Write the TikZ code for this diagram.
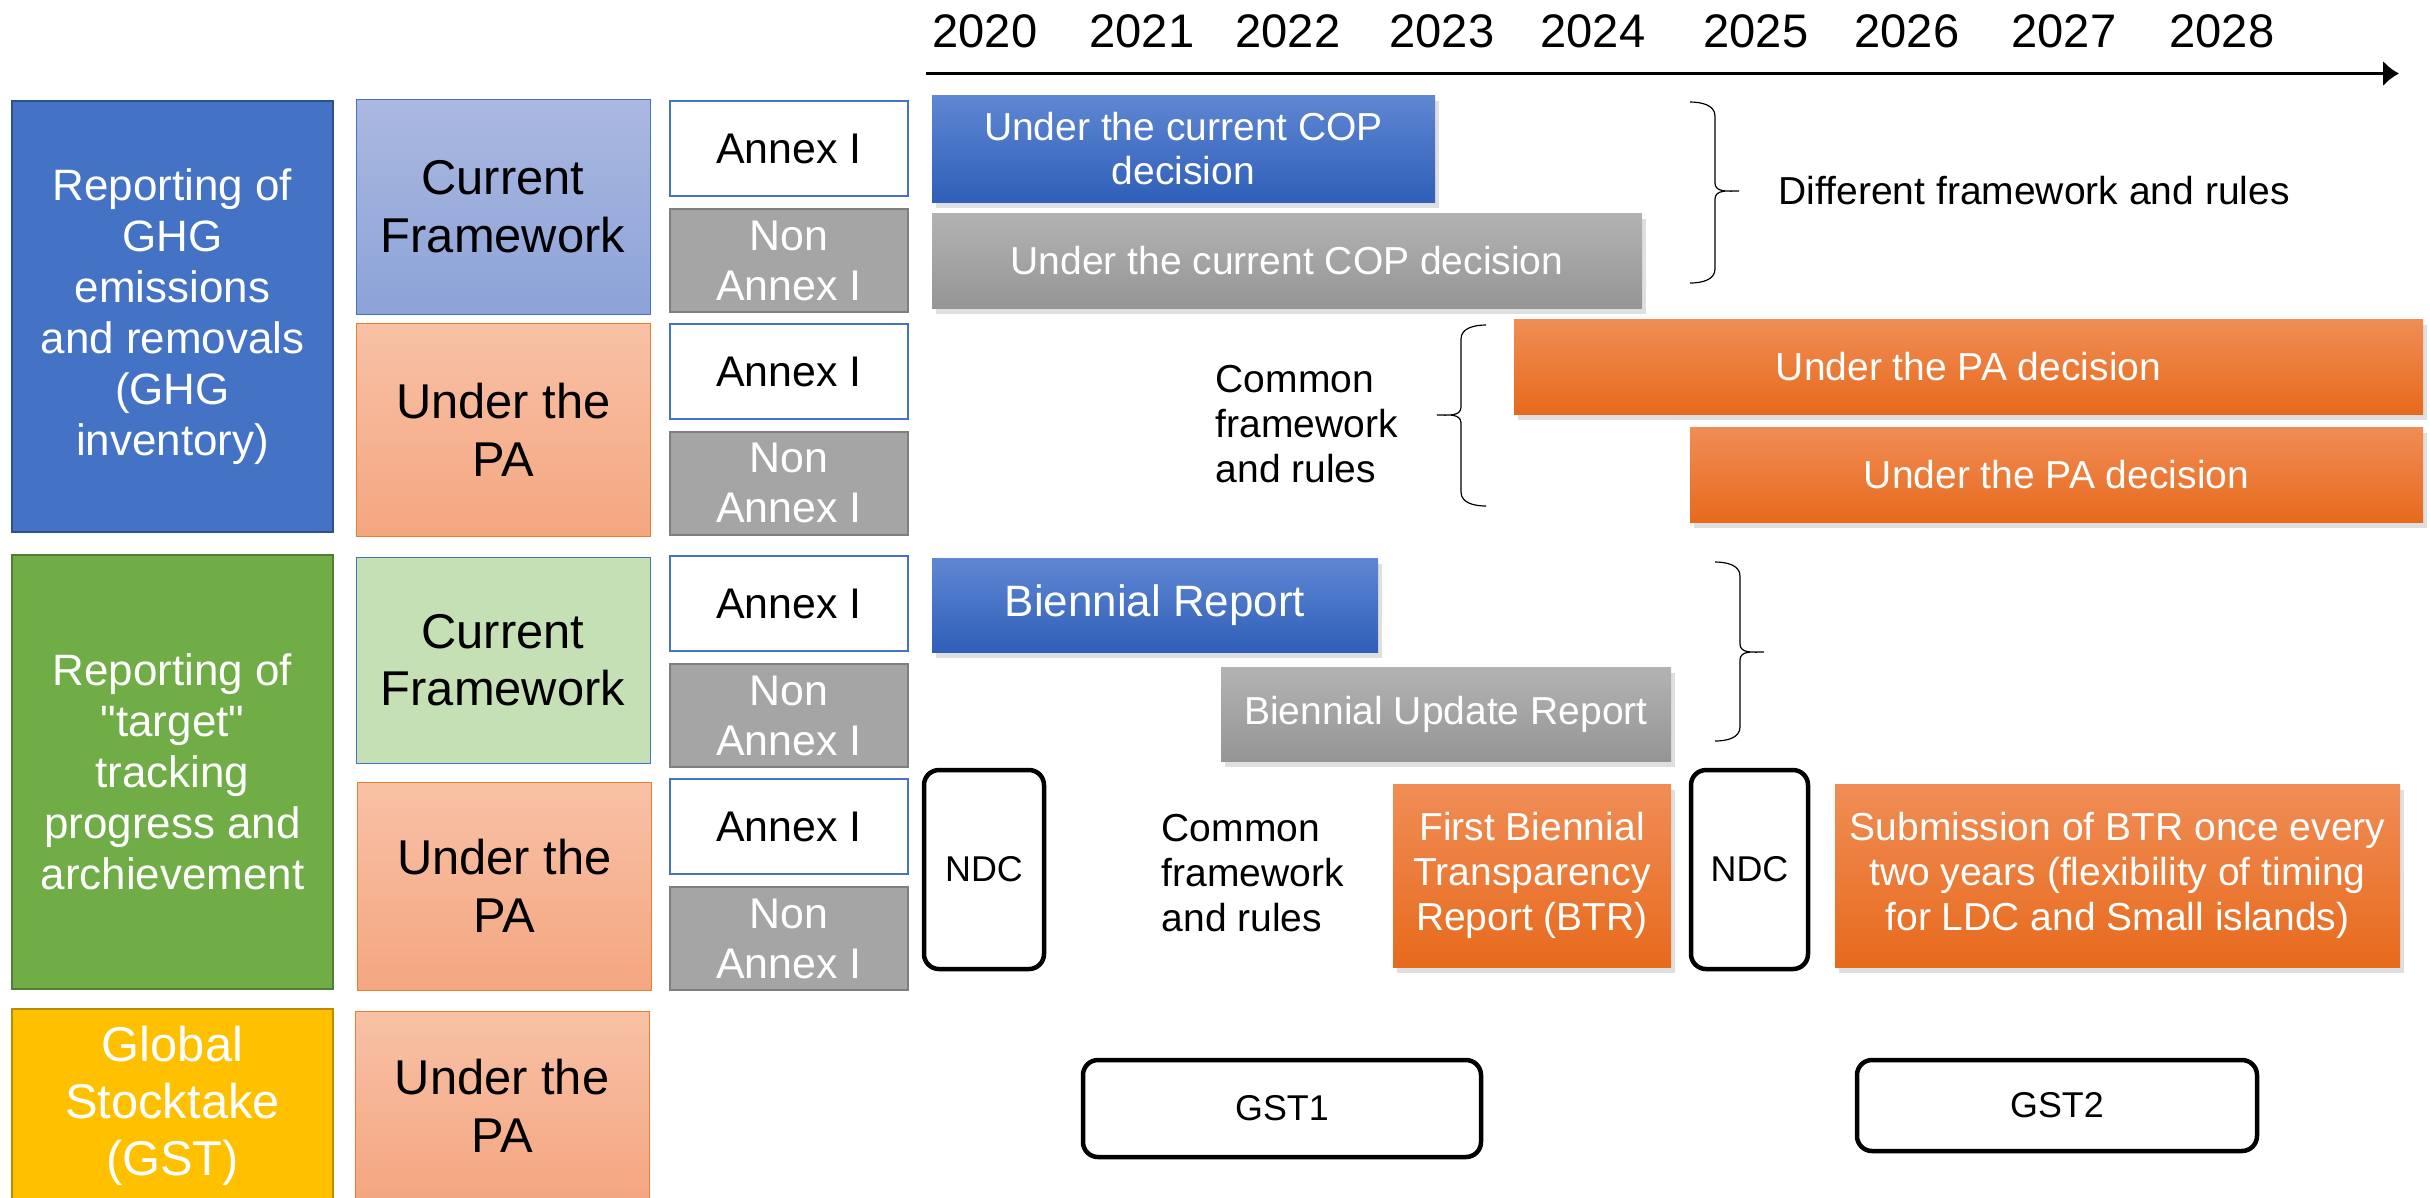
\documentclass[tikz,border=0pt]{standalone}
\usepackage{fontspec}
\setmainfont{Liberation Sans}
\usetikzlibrary{arrows.meta,shadows}

\definecolor{mainblue}{HTML}{4472C4}
\definecolor{mainblueline}{HTML}{2F528F}
\definecolor{maingreen}{HTML}{70AD47}
\definecolor{maingreenline}{HTML}{507E32}
\definecolor{mainyellow}{HTML}{FFC000}
\definecolor{mainyellowline}{HTML}{BC8C00}
\definecolor{paleblue1}{HTML}{ABB8E0}
\definecolor{paleblue2}{HTML}{8CA3D8}
\definecolor{paleorange1}{HTML}{F8C1A6}
\definecolor{paleorange2}{HTML}{F4A680}
\definecolor{orangeline}{HTML}{ED7D31}
\definecolor{palegreen}{HTML}{C5E0B4}
\definecolor{annexgray}{HTML}{A5A5A5}
\definecolor{annexgrayline}{HTML}{7F7F7F}
\definecolor{barblue1}{HTML}{5F87D3}
\definecolor{barblue2}{HTML}{2F5FB8}
\definecolor{bargray1}{HTML}{B3B3B3}
\definecolor{bargray2}{HTML}{959595}
\definecolor{barorange1}{HTML}{F08D56}
\definecolor{barorange2}{HTML}{E76A1C}

\tikzset{
  cellbox/.style={rectangle, inner sep=0pt, align=center},
  topic/.style={cellbox, line width=0.15mm, text=white, font=\fontsize{12.5}{14.5}\selectfont},
  framebox/.style={cellbox, line width=0.1mm, font=\fontsize{13.9}{16.4}\selectfont},
  annex/.style={cellbox, fill=white, draw=mainblue, line width=0.2mm, minimum width=23.8mm, minimum height=9.5mm, font=\fontsize{12.2}{14.2}\selectfont},
  nonannex/.style={cellbox, fill=annexgray, draw=annexgrayline, line width=0.2mm, text=white, minimum width=23.8mm, minimum height=10.3mm, font=\fontsize{12.2}{14.2}\selectfont},
  bar/.style={cellbox, text=white, drop shadow={opacity=0.25, shadow xshift=0.4mm, shadow yshift=-0.6mm}, font=\fontsize{11.1}{12.3}\selectfont},
  bluebar/.style={bar, top color=barblue1, bottom color=barblue2},
  graybar/.style={bar, top color=bargray1, bottom color=bargray2},
  orangebar/.style={bar, top color=barorange1, bottom color=barorange2},
  milestone/.style={cellbox, draw, line width=0.45mm, rounded corners=1.5mm, fill=white, font=\fontsize{10.2}{12}\selectfont},
  note/.style={inner sep=0pt, align=left, font=\fontsize{11.1}{12.8}\selectfont},
  curly/.style={line width=0.12mm},
  yearlabel/.style={inner sep=0pt, font=\fontsize{13.4}{16}\selectfont}
}

\begin{document}
\begin{tikzpicture}[x=1mm, y=-1mm]
	\useasboundingbox (0,0) rectangle (243,119.7);

	% time axis
	\coordinate (t0) at (92.6,7.35);
	\coordinate (t1) at (239.9,7.35);
	\draw [black, line width=0.3mm, -{Latex[length=1.6mm,width=2.6mm]}] (t0) -- (t1);
	\foreach \yr/\x in {2020/98.5, 2021/114.2, 2022/128.8, 2023/144.2, 2024/159.3, 2025/175.6, 2026/190.7, 2027/206.4, 2028/222.2}
		\node [yearlabel] (y\yr) at (\x,3.1) {\yr};

	% reporting topics
	\node [topic, fill=mainblue, draw=mainblueline, minimum width=32.1mm, minimum height=43.1mm] (ghg) at (17.25,31.65) {Reporting of\\GHG\\emissions\\and removals\\(GHG\\inventory)};
	\node [topic, fill=maingreen, draw=maingreenline, minimum width=32.1mm, minimum height=43.4mm] (target) at (17.25,77.2) {Reporting of\\\textquotedbl target\textquotedbl\\tracking\\progress and\\archievement};
	\node [topic, fill=mainyellow, draw=mainyellowline, font=\fontsize{13.9}{16.2}\selectfont, minimum width=32.1mm, minimum height=19.3mm] (gst) at (17.25,110.55) {Global\\Stocktake\\(GST)};

	% frameworks
	\node [framebox, top color=paleblue1, bottom color=paleblue2, draw=mainblue, minimum width=29.4mm, minimum height=21.5mm] (cf1) at (50.3,20.65) {Current\\Framework};
	\node [framebox, top color=paleorange1, bottom color=paleorange2, draw=orangeline, minimum width=29.4mm, minimum height=21.3mm] (pa1) at (50.35,42.95) {Under the\\PA};
	\node [framebox, fill=palegreen, draw=mainblue, minimum width=29.4mm, minimum height=20.6mm] (cf2) at (50.3,66.0) {Current\\Framework};
	\node [framebox, top color=paleorange1, bottom color=paleorange2, draw=orangeline, minimum width=29.4mm, minimum height=20.8mm] (pa2) at (50.45,88.6) {Under the\\PA};
	\node [framebox, top color=paleorange1, bottom color=paleorange2, draw=orangeline, minimum width=29.4mm, minimum height=18.9mm] (pa3) at (50.2,110.55) {Under the\\PA};

	% parties
	\foreach \n/\y in {1/14.85, 2/37.15, 3/60.35, 4/82.65}
		\node [annex] (annex\n) at (78.9,\y) {Annex I};
	\foreach \n/\y in {1/26.05, 2/48.3, 3/71.55, 4/93.85}
		\node [nonannex] (nonannex\n) at (78.9,\y) {Non\\Annex I};

	% GHG inventory
	\node [bluebar, minimum width=50.3mm, minimum height=10.7mm] (cop1) at (118.35,14.85) {Under the current COP\\decision};
	\node [graybar, minimum width=71mm, minimum height=9.5mm] (cop2) at (128.7,26.05) {Under the current COP decision};
	\node [orangebar, minimum width=90.9mm, minimum height=9.5mm] (padec1) at (196.85,36.65) {Under the PA decision};
	\node [orangebar, minimum width=73.3mm, minimum height=9.5mm] (padec2) at (205.65,47.45) {Under the PA decision};
	\draw [curly] (169,10.2) to[out=0,in=90] (171.5,11.6) -- (171.5,18.3) to[out=-90,in=180] (173.9,19.1)
		to[out=180,in=90] (171.5,19.9) -- (171.5,26.9) to[out=-90,in=0] (169,28.3);
	\node [note, anchor=west] (diff) at (177.8,19.1) {Different framework and rules};
	\draw [curly] (148.6,32.5) to[out=180,in=90] (146.1,33.9) -- (146.1,40.7) to[out=-90,in=0] (143.7,41.5)
		to[out=0,in=90] (146.1,42.3) -- (146.1,49.2) to[out=-90,in=180] (148.6,50.6);
	\node [note, anchor=west] (common1) at (121.5,42.4) {Common\\framework\\and rules};

	% target tracking
	\node [bluebar, font=\fontsize{12.5}{14}\selectfont, minimum width=44.6mm, minimum height=9.4mm] (br) at (115.5,60.5) {Biennial Report};
	\node [graybar, minimum width=45mm, minimum height=9.4mm] (bur) at (144.6,71.4) {Biennial Update Report};
	\draw [curly] (171.5,56.2) to[out=0,in=90] (174,57.6) -- (174,64.4) to[out=-90,in=180] (176.4,65.2)
		to[out=180,in=90] (174,66) -- (174,72.7) to[out=-90,in=0] (171.5,74.1);
	\node [milestone, minimum width=12mm, minimum height=19.9mm] (ndc1) at (98.4,86.95) {NDC};
	\node [note, anchor=west] (common2) at (116.1,87.3) {Common\\framework\\and rules};
	\node [orangebar, font=\fontsize{11.1}{12.8}\selectfont, minimum width=27.8mm, minimum height=18.3mm] (btr) at (153.2,87.55) {First Biennial\\Transparency\\Report (BTR)};
	\node [milestone, minimum width=11.7mm, minimum height=19.9mm] (ndc2) at (174.95,86.95) {NDC};
	\node [orangebar, font=\fontsize{11.1}{12.8}\selectfont, minimum width=56.5mm, minimum height=18.3mm] (btrcycle) at (211.75,87.55) {Submission of BTR once every\\two years (flexibility of timing\\for LDC and Small islands)};

	% stocktake
	\node [milestone, minimum width=39.8mm, minimum height=9.7mm] (gst1) at (128.2,110.85) {GST1};
	\node [milestone, minimum width=40mm, minimum height=9.1mm] (gst2) at (205.7,110.55) {GST2};
\end{tikzpicture}
\end{document}
